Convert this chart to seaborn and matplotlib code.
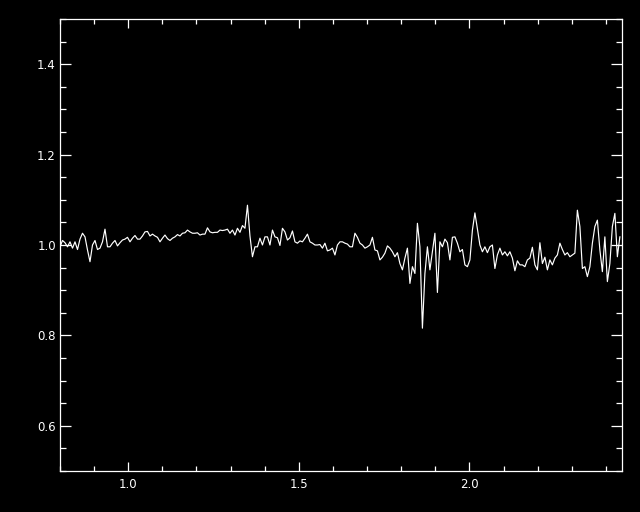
import numpy as np
import pandas as pd
import seaborn as sns
import matplotlib.pyplot as plt
from matplotlib.ticker import MultipleLocator

# spectre normalise (4 morceaux de 0.8 a 2.44)
flux_a = [0.996, 1.010, 1.005, 0.996, 1.007, 0.993, 1.007, 0.990, 1.013, 1.026,
          1.018, 0.989, 0.963, 1.000, 1.010, 0.990, 0.993, 1.007, 1.035, 0.996,
          0.996, 1.004, 1.010, 0.998, 1.005, 1.011, 1.013, 1.017, 1.007, 1.015,
          1.021, 1.013, 1.013, 1.020, 1.029, 1.030, 1.020, 1.024, 1.020, 1.017,
          1.007, 1.015, 1.022, 1.014, 1.010, 1.015, 1.018, 1.023, 1.020, 1.026,
          1.027, 1.033, 1.029, 1.026, 1.026, 1.027]
flux_b = [1.022, 1.024, 1.024, 1.038, 1.029, 1.027, 1.028, 1.028, 1.033, 1.032,
          1.033, 1.035, 1.026, 1.033, 1.022, 1.037, 1.028, 1.043, 1.037, 1.088,
          1.020, 0.974, 0.996, 0.996, 1.015, 1.000, 1.018, 1.018, 1.000, 1.033,
          1.018, 1.016, 0.999, 1.037, 1.029, 1.011, 1.016, 1.031, 1.007, 1.004,
          1.009, 1.007, 1.015, 1.024, 1.007, 1.004, 1.000, 1.000, 1.001, 0.993,
          1.004, 0.987, 0.989, 0.993, 0.978, 1.000]
flux_c = [1.007, 1.007, 1.004, 1.002, 0.996, 0.996, 1.026, 1.017, 1.004, 1.000,
          0.993, 0.996, 1.000, 1.017, 0.989, 0.987, 0.967, 0.973, 0.982, 0.998,
          0.993, 0.985, 0.974, 0.983, 0.959, 0.945, 0.971, 0.993, 0.915, 0.952,
          0.937, 1.048, 0.996, 0.816, 0.937, 0.996, 0.945, 0.985, 1.026, 0.895,
          1.007, 0.996, 1.013, 1.005, 0.967, 1.017, 1.018, 1.004, 0.985, 0.990,
          0.956, 0.952, 0.967, 1.033, 1.071, 1.035]
flux_d = [1.000, 0.985, 0.996, 0.983, 0.996, 1.000, 0.948, 0.978, 0.993, 0.978,
          0.985, 0.976, 0.985, 0.971, 0.943, 0.965, 0.956, 0.956, 0.952, 0.967,
          0.971, 0.995, 0.956, 0.945, 1.005, 0.959, 0.973, 0.945, 0.967, 0.956,
          0.971, 0.978, 1.004, 0.990, 0.978, 0.983, 0.974, 0.978, 0.982, 1.077,
          1.041, 0.948, 0.952, 0.930, 0.952, 1.004, 1.041, 1.055, 0.989, 0.941,
          1.018, 0.919, 0.959, 1.041, 1.070, 0.974, 1.018]

flux = flux_a + flux_b + flux_c + flux_d
# grille en longueur d'onde reguliere
lam_debut, lam_fin = 0.8, 2.441
lam = np.linspace(lam_debut, lam_fin, len(flux))
df = pd.DataFrame({'lam': lam, 'flux': flux})

fig = plt.figure(figsize=(6.4, 5.12), dpi=100, facecolor='black')
ax = fig.add_axes([0.09375, 0.0801, 0.878, 0.8828])
ax.set_facecolor('black')

sns.lineplot(data=df, x='lam', y='flux', color='white', linewidth=0.85, ax=ax)

ax.set_xlim(0.8, 2.447)
ax.set_ylim(0.5, 1.5)
ax.xaxis.set_major_locator(MultipleLocator(0.5))
ax.xaxis.set_minor_locator(MultipleLocator(0.1))
ax.yaxis.set_major_locator(MultipleLocator(0.2))
ax.yaxis.set_minor_locator(MultipleLocator(0.05))
ax.set_yticks([0.6, 0.8, 1.0, 1.2, 1.4])
ax.set_yticklabels(['0.6', '0.8', '1.0', '1.2', '1.4'])
ax.set_xticks([1.0, 1.5, 2.0])
ax.set_xticklabels(['1.0', '1.5', '2.0'])

ax.set_xlabel('')
ax.set_ylabel('')
for s in ax.spines.values():
    s.set_color('white')
    s.set_linewidth(0.9)

ax.tick_params(axis='x', which='major', direction='in', top=True, length=6.5,
               width=0.9, color='white', labelcolor='white', labelsize=8.5, pad=5)
ax.tick_params(axis='x', which='minor', direction='in', top=True, length=3.6,
               width=0.9, color='white')
ax.tick_params(axis='y', which='major', direction='in', right=True, length=8,
               width=0.9, color='white', labelcolor='white', labelsize=8.5, pad=3)
ax.tick_params(axis='y', which='minor', direction='in', right=True, length=4.3,
               width=0.9, color='white')

plt.savefig('out.png', dpi=100, facecolor='black')
